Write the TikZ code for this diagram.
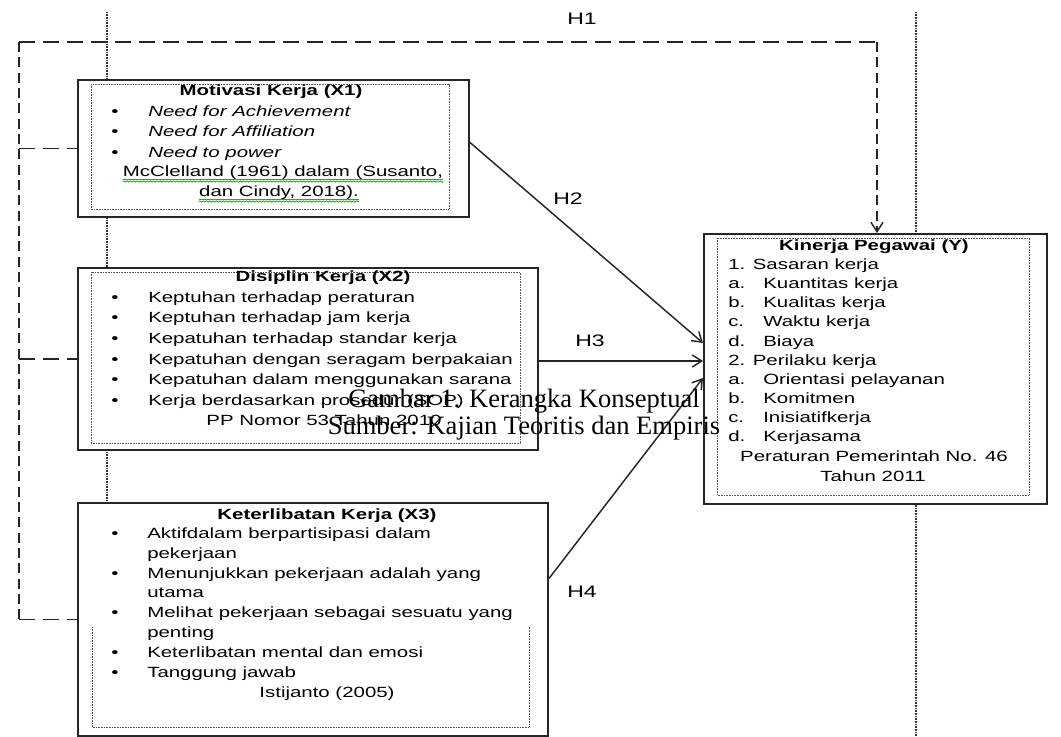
\documentclass[tikz,border=0pt]{standalone}
\usepackage{fontspec}
\setmainfont{Liberation Serif}
\newfontfamily\bx[FakeStretch=1.38]{Liberation Sans}
\usetikzlibrary{arrows.meta,calc,decorations.pathmorphing}
\begin{document}
\begin{tikzpicture}[x=0.75pt,y=-0.75pt,
  box/.style={draw=black!85, line width=1.5pt, fill=white, inner sep=0pt, anchor=north west},
  inner/.style={draw=black!65, line width=0.7pt, dash pattern=on 0.6pt off 0.6pt},
  guide/.style={draw=black!80, line width=0.8pt, dash pattern=on 0.6pt off 0.6pt},
  dh/.style={draw=black!85, line width=1.1pt, dash pattern=on 12pt off 6pt},
  dv/.style={draw=black!85, line width=1.1pt, dash pattern=on 7.5pt off 4pt},
  sline/.style={draw=black!85, line width=1.1pt},
  tip/.style={-{Straight Barb[length=7pt,width=9pt]}},
  txt/.style={font=\bx\fontsize{11.1pt}{13pt}\selectfont, inner sep=0pt, anchor=base west},
  itxt/.style={font=\bx\itshape\fontsize{11.1pt}{13pt}\selectfont, inner sep=0pt, anchor=base west},
  ttl/.style={font=\bx\bfseries\fontsize{11.1pt}{13pt}\selectfont, inner sep=0pt, anchor=base},
  ctr/.style={font=\bx\fontsize{11.1pt}{13pt}\selectfont, inner sep=0pt, anchor=base},
  hl/.style={font=\bx\fontsize{12.5pt}{14pt}\selectfont, inner sep=0pt},
  captxt/.style={font=\fontsize{19.9pt}{22pt}\selectfont, inner sep=0pt, anchor=base}
]
\useasboundingbox[fill=white] (0,0) rectangle (1061,737);

% guide dotted verticals
\draw[guide] (107,12) -- (107,737);
\draw[guide] (916,12) -- (916,737);

% boxes
\node[box, minimum width=293.25pt, minimum height=102.75pt] (X1) at (77,79) {};
\node[box, minimum width=345pt, minimum height=136.5pt] (X2) at (77,267) {};
\node[box, minimum width=352.5pt, minimum height=174.75pt] (X3) at (77,502) {};
\node[box, minimum width=257.25pt, minimum height=202.5pt] (Y) at (703,233) {};

% dashed H1 structure
\coordinate (LT) at (19,42);
\coordinate (RT) at (877,42);
\draw[dv] (X3.west -| LT) -- (LT);
\draw[dh] (LT) -- (RT);
\draw[dv,tip] (RT) -- (RT |- Y.north);
\draw[dh] (X1.west -| LT) -- (X1.west);
\draw[dh] (X2.west -| LT) -- (X2.west);
\draw[dh] (X3.west -| LT) -- (X3.west);

% inner dotted frames
\draw[inner] (91,84) rectangle (449,209);
\draw[inner] (91,272) rectangle (520,443);
\draw[inner] (92,627) -- (92,727) -- (529,727) -- (529,627);
\draw[inner] (717,238) rectangle (1029,495);

% X1 text
\node[ttl] (x1t) at (271,96) {Motivasi Kerja (X1)};
\foreach \y/\t [count=\i] in {117/Need for Achievement, 137/Need for Affiliation, 158/Need to power} {
  \node[ctr] (x1d\i) at (115,\y) {\textbullet};
  \node[itxt] (x1i\i) at (148,\y) {\t};
}
\node[ctr] (x1r1) at (283,177) {McClelland (1961) dalam (Susanto,};
\node[ctr] (x1r2) at (279,197) {dan Cindy, 2018).};
\draw[black!55, line width=0.5pt] ($(x1r1.base west)+(0,2)$) -- ($(x1r1.base east)+(0,2)$);
\draw[black!55, line width=0.5pt] ($(x1r2.base west)+(0,2)$) -- ($(x1r2.base east)+(0,2)$);
\draw[green!60!black, line width=0.5pt, decorate, decoration={snake, amplitude=0.5pt, segment length=2.5pt}] ($(x1r1.base west)+(0,4.5)$) -- ($(x1r1.base east)+(0,4.5)$);
\draw[green!60!black, line width=0.5pt, decorate, decoration={snake, amplitude=0.5pt, segment length=2.5pt}] ($(x1r2.base west)+(0,4.5)$) -- ($(x1r2.base east)+(0,4.5)$);

% X2 text
\node[ttl] (x2t) at (323,282) {Disiplin Kerja (X2)};
\foreach \y/\t [count=\i] in {303/Keptuhan terhadap peraturan, 323/Keptuhan terhadap jam kerja, 344/Kepatuhan terhadap standar kerja, 365/Kepatuhan dengan seragam berpakaian, 385/Kepatuhan dalam menggunakan sarana, 406/Kerja berdasarkan prosedur (SOP)} {
  \node[ctr] (x2d\i) at (115,\y) {\textbullet};
  \node[txt] (x2i\i) at (148,\y) {\t};
}
\node[ctr] (x2r) at (324,426) {PP Nomor 53 Tahun 2010};

% X3 text
\node[ttl] (x3t) at (327,520) {Keterlibatan Kerja (X3)};
\foreach \y in {539,579,618,658,677} {
  \node[ctr] (x3d\y) at (115,\y) {\textbullet};
}
\foreach \y/\t [count=\i] in {539/Aktifdalam berpartisipasi dalam, 559/pekerjaan, 579/Menunjukkan pekerjaan adalah yang, 598/utama, 618/Melihat pekerjaan sebagai sesuatu yang, 638/penting, 658/Keterlibatan mental dan emosi, 677/Tanggung jawab} {
  \node[txt] (x3i\i) at (147,\y) {\t};
}
\node[ctr] (x3r) at (327,697) {Istijanto (2005)};

% Y text
\node[ttl] (yt) at (874,251) {Kinerja Pegawai (Y)};
\node[txt] (y1) at (728,270) {1. Sasaran kerja};
\foreach \y/\l/\t [count=\i] in {289/a./Kuantitas kerja, 308/b./Kualitas kerja, 327/c./Waktu kerja, 347/d./Biaya} {
  \node[txt] (yal\i) at (728,\y) {\l};
  \node[txt] (yai\i) at (763,\y) {\t};
}
\node[txt] (y2) at (728,366) {2. Perilaku kerja};
\foreach \y/\l/\t [count=\i] in {385/a./Orientasi pelayanan, 404/b./Komitmen, 423/c./Inisiatifkerja, 442/d./Kerjasama} {
  \node[txt] (ybl\i) at (728,\y) {\l};
  \node[txt] (ybi\i) at (763,\y) {\t};
}
\node[ctr] (yr1) at (874,462) {Peraturan Pemerintah No. 46};
\node[ctr] (yr2) at (873,482) {Tahun 2011};

% solid connectors
\draw[sline,tip] ($(X1.east)+(0,-6)$) -- ($(Y.west)+(0,-26)$);
\draw[sline,tip] ($(X2.east)+(0,2)$) -- ($(Y.west)+(0,-8)$);
\draw[sline,tip] ($(X3.east)+(0,-41)$) -- ($(Y.west)+(0,9)$);

% hypothesis labels
\node[hl] (h1) at (582,19) {H1};
\node[hl] (h2) at (568,199) {H2};
\node[hl] (h3) at (590,341) {H3};
\node[hl] (h4) at (582,592) {H4};

% caption
\node[captxt] (cap1) at (524,408) {Gambar 1. Kerangka Konseptual};
\node[captxt] (cap2) at (524,435) {Sumber: Kajian Teoritis dan Empiris};
\end{tikzpicture}
\end{document}
